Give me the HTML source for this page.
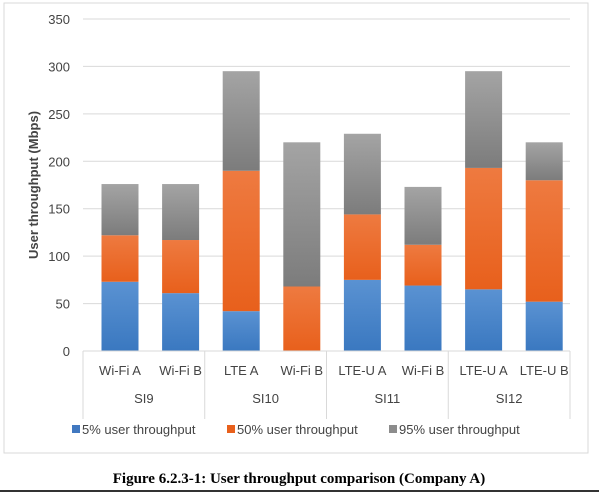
<!DOCTYPE html>
<html><head><meta charset="utf-8"><style>
html,body{margin:0;padding:0;background:#fff;width:599px;height:493px;overflow:hidden}
svg text{font-family:"Liberation Sans",sans-serif}
</style></head><body>
<svg width="599" height="493">
<defs>
<linearGradient id="gb" x1="0" y1="0" x2="0" y2="1"><stop offset="0" stop-color="#5a92d2"/><stop offset="1" stop-color="#3a78c0"/></linearGradient>
<linearGradient id="go" x1="0" y1="0" x2="0" y2="1"><stop offset="0" stop-color="#ee7a40"/><stop offset="1" stop-color="#e8601c"/></linearGradient>
<linearGradient id="gg" x1="0" y1="0" x2="0" y2="1"><stop offset="0" stop-color="#a4a4a4"/><stop offset="1" stop-color="#7c7c7c"/></linearGradient>
</defs>
<rect x="4" y="3" width="584" height="450" fill="#fff" stroke="#d9d9d9"/>
<g id="grid"></g><g id="bars"></g><g id="axis"></g>
<text x="0" y="0" transform="translate(38,185) rotate(-90)" text-anchor="middle" font-size="13" font-weight="bold" fill="#444">User throughput (Mbps)</text>
<g font-size="13" fill="#444">
<rect x="72" y="425" width="8" height="8" fill="#4178c0"/>
<text x="82" y="434">5% user throughput</text>
<rect x="227" y="425" width="8" height="8" fill="#e8601c"/>
<text x="237" y="434">50% user throughput</text>
<rect x="389" y="425" width="8" height="8" fill="#8c8c8c"/>
<text x="399" y="434">95% user throughput</text>
</g>
<text x="299" y="483" text-anchor="middle" font-size="15" font-weight="bold" style="font-family:'Liberation Serif',serif" fill="#000">Figure 6.2.3-1: User throughput comparison (Company A)</text>
<line x1="0" y1="491" x2="599" y2="491" stroke="#333" stroke-width="2"/>
</svg>
<script>
const categories=["Wi-Fi A","Wi-Fi B","LTE A","Wi-Fi B","LTE-U A","Wi-Fi B","LTE-U A","LTE-U B"];
const groups=["SI9","SI10","SI11","SI12"];
const p5=[73,61,42,0,75,69,65,52];
const p50=[49,56,148,68,69,43,128,128];
const p95=[54,59,105,152,85,61,102,40];
const yTicks=[0,50,100,150,200,250,300,350];
const NS="http://www.w3.org/2000/svg";
const x0=83,x1=570,y0=351,y1=19,ymax=350;
const y=v=>y0-(v/ymax)*(y0-y1);
const step=60.6;
const cx=i=>120+step*i;
const bw=37;
function mk(t,a,p){const e=document.createElementNS(NS,t);for(const k in a)e.setAttribute(k,a[k]);p.appendChild(e);return e;}
const grid=document.getElementById('grid'),bars=document.getElementById('bars'),axis=document.getElementById('axis');
yTicks.forEach(t=>{
 if(t>0){const l=mk('line',{x1:x0,x2:x1,y1:y(t),y2:y(t),stroke:'#d9d9d9'},grid);
 
 }
 const tx=mk('text',{x:70,y:y(t)+5,'text-anchor':'end','font-size':13,fill:'#444'},axis);tx.textContent=t;
 
 
});
const series=[[p5,'url(#gb)','5pct'],[p50,'url(#go)','50pct'],[p95,'url(#gg)','95pct']];
categories.forEach((c,i)=>{
 let base=0;
 series.forEach(([arr,fill,nm])=>{
  const v=arr[i];
  if(v>0){const r=mk('rect',{x:cx(i)-bw/2,y:y(base+v),width:bw,height:y(base)-y(base+v),fill:fill},bars);
  
  }
  base+=v;
 });
 const t=mk('text',{x:cx(i),y:375,'text-anchor':'middle','font-size':13,fill:'#444'},axis);t.textContent=c;
 
 
});
const ax=mk('line',{x1:x0,x2:x1,y1:y0,y2:y0,stroke:'#d9d9d9'},axis);


for(let g=0;g<=groups.length;g++){
 const xs=x0+(x1-x0)*g/groups.length;
 const l=mk('line',{x1:xs,x2:xs,y1:y0,y2:419,stroke:'#d9d9d9'},axis);
 
 
 if(g<groups.length){const t=mk('text',{x:xs+(x1-x0)/groups.length/2,y:403,'text-anchor':'middle','font-size':13,fill:'#444'},axis);t.textContent=groups[g];
 
 }
}
</script>
</body></html>
